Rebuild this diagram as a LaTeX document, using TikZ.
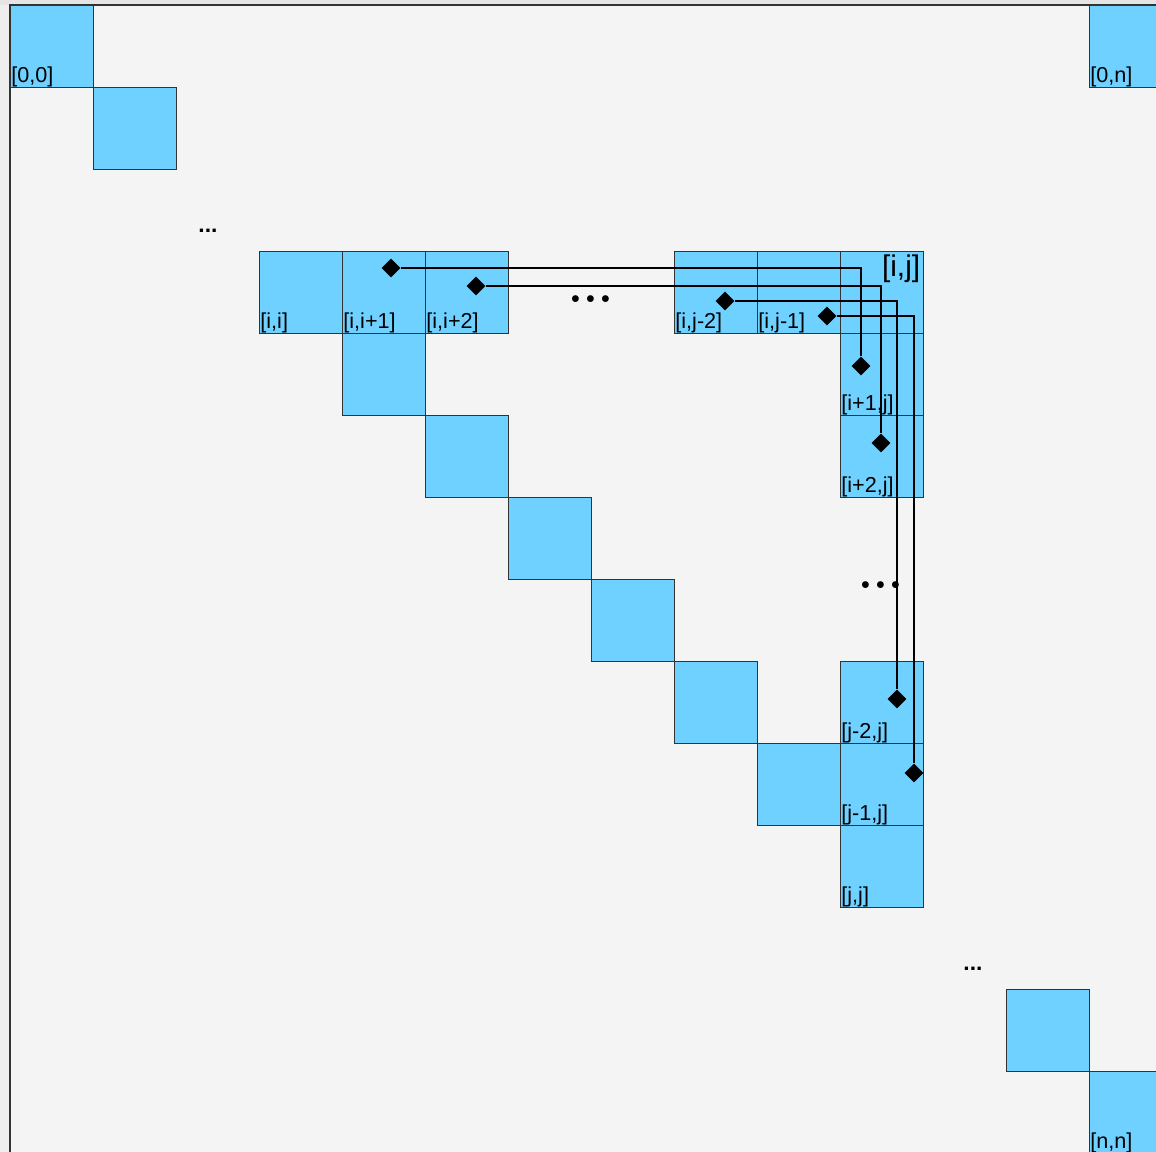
\documentclass[tikz,border=0pt]{standalone}
\usepackage{fontspec}
\setmainfont{Liberation Sans}
\newfontfamily\lmfont{Latin Modern Roman}
\usetikzlibrary{shapes.geometric}
\definecolor{cellblue}{HTML}{6FD1FF}
\definecolor{paper}{HTML}{F4F4F4}
\definecolor{outside}{HTML}{EEEEEE}
\tikzset{
	cellA/.style={
		draw=black!80, fill=cellblue, line width=0.6pt, inner sep=0pt,
		minimum width=1.66cm, minimum height=1.64cm, anchor=north west
	},
	lblA/.style={anchor=south west, inner sep=0.6pt, font={\fontsize{12.3}{12.3}\selectfont}},
	biglbl/.style={anchor=north east, inner sep=2pt, font={\fontsize{17}{17}\selectfont}},
	dotsA/.style={inner sep=0pt, font={\fontsize{13}{13}\selectfont\bfseries}},
	bigdots/.style={inner sep=0pt, font={\lmfont\fontsize{27}{27}\selectfont\bfseries}},
	dmdA/.style={diamond, fill=black, inner sep=0pt, minimum width=0.38cm, minimum height=0.38cm},
	linkA/.style={line width=0.6pt},
}
\def\cw{83}
\def\ch{82}

\begin{document}
\begin{tikzpicture}[x=0.02cm, y=-0.02cm]
\useasboundingbox (0,0) rectangle (1156,1152);
\fill[outside] (0,0) rectangle (1156,1152);
\fill[black!10] (0,0) rectangle (1156,5);
\fill[paper] (10,5) rectangle (1156,1152);
\draw[black!80, line width=0.8pt] (10,1152) -- (10,5) -- (1156,5);

% diagonal from [i,i] to [j,j]
\foreach \k in {3,...,10}
	\node[cellA] (d\k) at ({10+\cw*\k},{5+\ch*\k}) {};
\foreach \nm/\c/\r in {c00/0/0, c11/1/1, c0n/13/0, c1212/12/12, cnn/13/13,
		r4/4/3, r5/5/3, r8/8/3, r9/9/3, ij/10/3,
		k4/10/4, k5/10/5, k8/10/8, k9/10/9}
	\node[cellA] (\nm) at ({10+\cw*\c},{5+\ch*\r}) {};

\foreach \nm/\txt in {c00/{[0,0]}, c0n/{[0,n]}, cnn/{[n,n]}, d3/{[i,i]},
		r4/{[i,i+1]}, r5/{[i,i+2]}, r8/{[i,j-2]}, r9/{[i,j-1]},
		k4/{[i+1,j]}, k5/{[i+2,j]}, k8/{[j-2,j]}, k9/{[j-1,j]}, d10/{[j,j]}}
	\node[lblA] (l\nm) at (\nm.south west) {\txt};
\node[biglbl] (lij) at (ij.north east) {[i,j]};

\node[dotsA] (dotsTL) at (208,231) {...};
\node[bigdots] (dotsRow) at (591,299) {...};
\node[bigdots] (dotsCol) at (881,585) {...};
\node[dotsA] (dotsBR) at (973,969) {...};

\node[dmdA] (a1) at (391,268) {}; \node[dmdA] (b1) at (861,366) {};
\node[dmdA] (a2) at (476,286) {}; \node[dmdA] (b2) at (881,443) {};
\node[dmdA] (a3) at (725,301) {}; \node[dmdA] (b3) at (897,699) {};
\node[dmdA] (a4) at (827,316) {}; \node[dmdA] (b4) at (914,773) {};
\foreach \n in {1,...,4}
	\draw[linkA] (a\n) -| (b\n);
\end{tikzpicture}
\end{document}
